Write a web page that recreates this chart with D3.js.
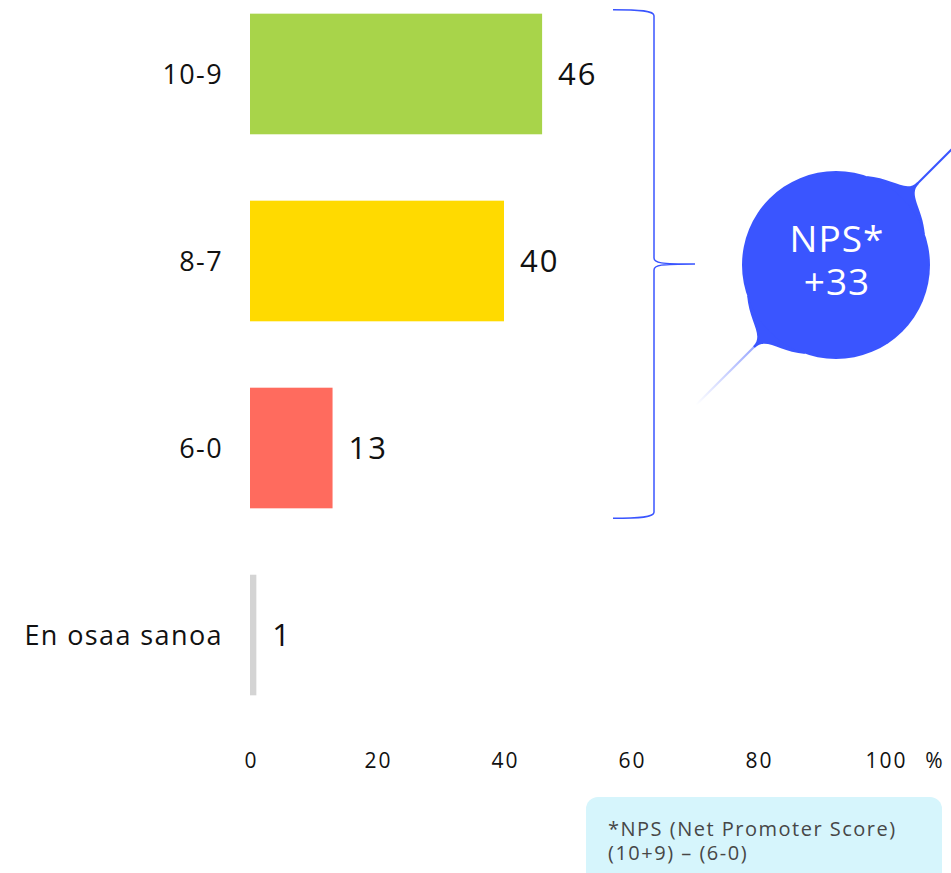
<!DOCTYPE html>
<html>
<head>
<meta charset="utf-8">
<script src="https://cdn.jsdelivr.net/npm/d3@7"></script>
<style>
  body { margin: 0; background: #fff; }
  svg text { font-family: "Open Sans", "Noto Sans", sans-serif; }
</style>
</head>
<body>
<div id="chart"></div>
<script>
// Data
const categories = ["10-9", "8-7", "6-0", "En osaa sanoa"];
const values = [46, 40, 13, 1];
const colors = ["#a8d44a", "#ffda00", "#ff6b5e", "#d4d4d4"];
const xTicks = [0, 20, 40, 60, 80, 100];
const npsLines = ["NPS*", "+33"];
const footnote = ["*NPS (Net Promoter Score)", "(10+9) \u2013 (6-0)"];

const W = 951, H = 873;
const svg = d3.select("#chart").append("svg")
    .attr("width", W).attr("height", H);

// Scales
const x = d3.scaleLinear().domain([0, 100]).range([250, 885]);
const y = d3.scaleBand()
    .domain(categories)
    .range([-18.5, 727.5])
    .paddingInner(0.355)
    .paddingOuter(0.172);

// Bars
svg.selectAll(".bar")
    .data(categories)
    .join("rect")
    .attr("x", x(0))
    .attr("y", d => y(d))
    .attr("width", (d, i) => x(values[i]) - x(0))
    .attr("height", y.bandwidth())
    .attr("fill", (d, i) => colors[i]);

// Category labels
svg.selectAll(".cat")
    .data(categories)
    .join("text")
    .attr("x", 223)
    .attr("y", d => y(d) + y.bandwidth() / 2)
    .attr("dy", "0.36em")
    .attr("text-anchor", "end")
    .attr("font-size", "27px")
    .attr("letter-spacing", "1.4px")
    .attr("fill", "#111")
    .text(d => d);

// Value labels
svg.selectAll(".val")
    .data(categories)
    .join("text")
    .attr("x", (d, i) => x(values[i]) + 16)
    .attr("y", d => y(d) + y.bandwidth() / 2)
    .attr("dy", "0.36em")
    .attr("font-size", "31px")
    .attr("font-weight", 500)
    .attr("letter-spacing", "2px")
    .attr("fill", "#111")
    .text((d, i) => values[i]);

// X axis labels
const axis = svg.append("g")
    .attr("transform", "translate(0,768)")
    .call(d3.axisBottom(x).tickValues(xTicks).tickSize(0).tickPadding(0));
axis.select(".domain").remove();
axis.selectAll("text")
    .attr("dy", 0)
    .attr("dx", 1)
    .attr("font-size", "21px")
    .attr("letter-spacing", "2px")
    .attr("fill", "#111")
    .style("font-family", "\"Open Sans\", sans-serif");
svg.append("text")
    .attr("x", 934).attr("y", 768)
    .attr("text-anchor", "middle")
    .attr("font-size", "21px")
    .attr("fill", "#111")
    .text("%");

// Bracket over the three NPS groups
const bTop = y(categories[0]) - 4, bBot = y(categories[2]) + y.bandwidth() + 10;
const bMid = (bTop + bBot) / 2;
const bx = 654;
svg.append("path")
    .attr("d", `M613,${bTop} C640,${bTop} 654,${bTop + 1} ${bx},${bTop + 6}
        L${bx},${bMid - 6} C${bx},${bMid - 1} 660,${bMid} 695,${bMid}
        C660,${bMid} ${bx},${bMid + 1} ${bx},${bMid + 6}
        L${bx},${bBot - 6} C${bx},${bBot - 1} 640,${bBot} 613,${bBot}`)
    .attr("fill", "none")
    .attr("stroke", "#3a55ff")
    .attr("stroke-width", 1.5);

// NPS bubble
const cx = 836, cy = 265, r = 94;
const defs = svg.append("defs");
const grad = defs.append("linearGradient")
    .attr("id", "fade").attr("x1", 0).attr("x2", 1).attr("y1", 0).attr("y2", 0);
grad.append("stop").attr("offset", "0%").attr("stop-color", "#3a55ff").attr("stop-opacity", 0);
grad.append("stop").attr("offset", "35%").attr("stop-color", "#3a55ff").attr("stop-opacity", 1);
grad.append("stop").attr("offset", "100%").attr("stop-color", "#3a55ff").attr("stop-opacity", 1);

const bubble = svg.append("g")
    .attr("transform", `translate(${cx},${cy}) rotate(-45)`);
bubble.append("rect")
    .attr("x", -198).attr("y", -1)
    .attr("width", 198 + 260).attr("height", 2)
    .attr("fill", "url(#fade)");
const a = 26 * Math.PI / 180;
[1, -1].forEach(s => {
    const px = s * r * Math.cos(a), py = r * Math.sin(a);
    const ex = s * (r + 22);
    const p = d3.path();
    p.moveTo(px, -py);
    p.bezierCurveTo(s * (r + 8), -py * 0.5, s * (r + 6), -1.2, ex, -1.2);
    p.lineTo(ex, 1.2);
    p.bezierCurveTo(s * (r + 6), 1.2, s * (r + 8), py * 0.5, px, py);
    p.closePath();
    bubble.append("path").attr("d", p.toString()).attr("fill", "#3a55ff");
});
bubble.append("circle").attr("r", r).attr("fill", "#3a55ff");

svg.append("text")
    .attr("text-anchor", "middle")
    .attr("font-size", "37px")
    .attr("letter-spacing", "1px")
    .attr("fill", "#fff")
    .selectAll("tspan")
    .data(npsLines)
    .join("tspan")
    .attr("x", cx + 1)
    .attr("y", (d, i) => 252 + i * 43)
    .text(d => d);

// Footnote box
svg.append("rect")
    .attr("x", 586).attr("y", 797)
    .attr("width", 356).attr("height", 90)
    .attr("rx", 12)
    .attr("fill", "#d6f5fc");
svg.append("text")
    .attr("font-size", "20px")
    .attr("letter-spacing", "1.5px")
    .attr("fill", "#474747")
    .selectAll("tspan")
    .data(footnote)
    .join("tspan")
    .attr("x", 608)
    .attr("y", (d, i) => 836 + i * 24)
    .text(d => d);
</script>
</body>
</html>
